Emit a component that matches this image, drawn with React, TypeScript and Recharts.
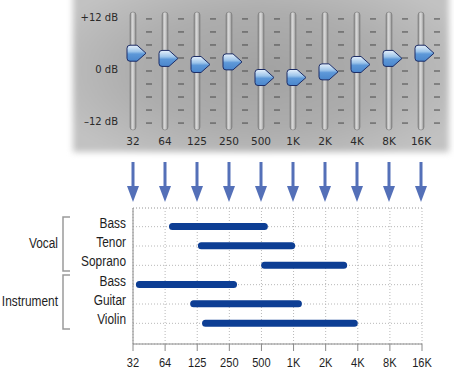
import React from "react";
import { ComposedChart, BarChart, Bar, Scatter, XAxis, YAxis, CartesianGrid } from "recharts";

const bands = ["32", "64", "125", "250", "500", "1K", "2K", "4K", "8K", "16K"];
const gains = [4.1, 2.9, 1.5, 2.1, -1.5, -1.5, -0.2, 1.5, 2.9, 4.1];
const dbTicks = [-12, -9, -6, -3, 0, 3, 6, 9, 12];
const dbLabels: Record<string, string> = { "12": "+12 dB", "0": "0 dB", "-12": "\u201312 dB" };
const travel = 13.6; // slider travel, dB

const parts = ["Bass", "Tenor", "Soprano", "Bass", "Guitar", "Violin"];
const groups = ["Vocal", "Vocal", "Vocal", "Instrument", "Instrument", "Instrument"];
// ranges in octaves above 32 Hz (0 = 32, 9 = 16K)
const lows = [1.12, 2.02, 3.99, 0.09, 1.78, 2.15];
const highs = [4.2, 5.05, 6.67, 3.24, 5.26, 7.0];
const octaves = bands.map((_, i) => i);

const eqData = bands.map((band, i) => ({ band, gain: gains[i], track: [-travel, travel] }));
const rangeData = parts.map((name, i) => ({ id: `r${i}`, name, group: groups[i], span: [lows[i], highs[i]] }));

const panelFont = "'DejaVu Sans', Verdana, sans-serif";
const sans = "'Liberation Sans', Arial, sans-serif";

// condensed label: Liberation Sans squeezed horizontally
const Narrow = ({ x, y, anchor, size, children }: any) => (
  <text
    transform={`translate(${x},${y}) scale(0.82,1)`}
    dy="0.35em"
    textAnchor={anchor}
    fontSize={size}
    fontFamily={sans}
    fill="#1e1e1e"
  >
    {children}
  </text>
);

const Track = (p: any) => {
  const { x, y, width, height } = p;
  return (
    <g>
      <rect x={x} y={y} width={width} height={height} rx={3} fill="url(#trackGrad)" stroke="#7a7a7a" strokeWidth={0.6} />
      {dbTicks.map((d) => {
        const yy = y + ((travel - d) / (2 * travel)) * height;
        return <line key={d} x1={x + width + 10} x2={x + width + 16} y1={yy} y2={yy} stroke="#4a4a4a" strokeWidth={1} />;
      })}
    </g>
  );
};

const Knob = ({ cx, cy }: any) => {
  const l = cx - 6, r = cx + 13, k = cx + 4, t = cy - 8, b = cy + 8;
  return (
    <path
      d={`M${l + 3},${t} L${k},${t} L${r},${cy} L${k},${b} L${l + 3},${b} Q${l},${b} ${l},${b - 3} L${l},${t + 3} Q${l},${t} ${l + 3},${t} Z`}
      fill="url(#knobGrad)"
      stroke="#1d2d66"
      strokeWidth={1}
    />
  );
};

const DbTick = ({ x, y, payload }: any) => {
  const label = dbLabels[String(payload.value)];
  if (!label) return null;
  return (
    <text x={x + 1} y={y - 1.5} dy="0.35em" textAnchor="end" fontSize={10} fontFamily={panelFont} fill="#2a2a2a">
      {label}
    </text>
  );
};

// band label inside the panel plus the blue arrow pointing down to the range chart
const BandTick = ({ x, y, payload }: any) => (
  <g>
    <text x={x} y={y} dy="0.71em" textAnchor="middle" fontSize={10.5} fontFamily={panelFont} fill="#2a2a2a">
      {payload.value}
    </text>
    <g fill="#5470b8">
      <rect x={x - 1.5} y={y + 24} width={3} height={26} />
      <path d={`M${x - 6},${y + 48} L${x + 6},${y + 48} L${x},${y + 64} Z`} />
    </g>
  </g>
);

const RowTick = ({ x, y, index }: any) => {
  const g = groups[index];
  const first = groups.indexOf(g);
  const last = groups.lastIndexOf(g);
  const mid = Math.floor((first + last) / 2);
  return (
    <g>
      <Narrow x={x} y={y - 4} anchor="end" size={14.5}>
        {parts[index]}
      </Narrow>
      {index === mid && (
        <g>
          <Narrow x={x - 68} y={y - 3} anchor="end" size={14.5}>
            {g}
          </Narrow>
          <path
            d={`M${x - 56},${y - 29} L${x - 63},${y - 29} L${x - 63},${y + 25} L${x - 56},${y + 25}`}
            fill="none"
            stroke="#9a9a9a"
            strokeWidth={1.5}
          />
        </g>
      )}
    </g>
  );
};

const FreqTick = ({ x, y, payload }: any) => (
  <Narrow x={x} y={y + 5} anchor="middle" size={13.5}>
    {bands[payload.value]}
  </Narrow>
);

export default function App() {
  return (
    <div style={{ position: "absolute", left: 0, top: 0, width: 454, height: 372, background: "#fff", overflow: "hidden" }}>
      <svg width={0} height={0} style={{ position: "absolute" }}>
        <defs>
          <linearGradient id="trackGrad" x1="0" y1="0" x2="1" y2="0">
            <stop offset="0%" stopColor="#7c7c7c" />
            <stop offset="35%" stopColor="#dadada" />
            <stop offset="65%" stopColor="#c6c6c6" />
            <stop offset="100%" stopColor="#7e7e7e" />
          </linearGradient>
          <linearGradient id="knobGrad" x1="0" y1="0" x2="0" y2="1">
            <stop offset="0%" stopColor="#e8f2fc" />
            <stop offset="40%" stopColor="#9cc4ea" />
            <stop offset="55%" stopColor="#5d98d8" />
            <stop offset="100%" stopColor="#4a86cc" />
          </linearGradient>
        </defs>
      </svg>
      <div
        style={{
          position: "absolute",
          left: 73,
          top: -10,
          width: 376,
          height: 162,
          background: "radial-gradient(ellipse 60% 65% at 50% 50%, #a2a2a2 0%, #adadad 55%, #c2c2c2 100%)",
          filter: "blur(3px)",
        }}
      />
      <div style={{ position: "absolute", left: 0, top: 160 }}>
        <BarChart
          layout="vertical"
          width={454}
          height={212}
          data={rangeData}
          margin={{ top: 47, right: 32, bottom: 0, left: 0 }}
          barSize={7}
        >
          <CartesianGrid stroke="#b8b8b8" strokeDasharray="1 2" horizontalCoordinatesGenerator={undefined} />
          <XAxis
            type="number"
            domain={[0, 9]}
            ticks={octaves}
            height={28}
            stroke="#8a8a8a"
            tickSize={7}
            tickMargin={6}
            tick={FreqTick}
          />
          <XAxis
            xAxisId="top"
            orientation="top"
            type="number"
            domain={[0, 9]}
            height={1}
            tick={false}
            tickLine={false}
            axisLine={{ stroke: "#b8b8b8", strokeDasharray: "1 2" }}
          />
          <YAxis
            type="category"
            dataKey="id"
            width={133}
            stroke="#8a8a8a"
            tickLine={false}
            tickSize={0}
            tickMargin={7}
            interval={0}
            padding={{ top: 9, bottom: 11 }}
            tick={RowTick}
          />
          <Bar dataKey="span" fill="#0d3e94" radius={3.5} isAnimationActive={false} />
        </BarChart>
      </div>
      <div style={{ position: "absolute", left: 0, top: 0 }}>
        <ComposedChart width={454} height={205} data={eqData} margin={{ top: 12, right: 17, bottom: 0, left: 0 }} barSize={6}>
          <XAxis dataKey="band" type="category" height={75} axisLine={false} tickLine={false} interval={0} tick={BandTick} />
          <YAxis
            type="number"
            domain={[-travel, travel]}
            ticks={dbTicks}
            width={117}
            axisLine={false}
            tickLine={false}
            tickSize={0}
            tickMargin={0}
            interval={0}
            tick={DbTick}
          />
          <Bar dataKey="track" shape={Track} isAnimationActive={false} />
          <Scatter dataKey="gain" shape={Knob} isAnimationActive={false} />
        </ComposedChart>
      </div>
    </div>
  );
}
